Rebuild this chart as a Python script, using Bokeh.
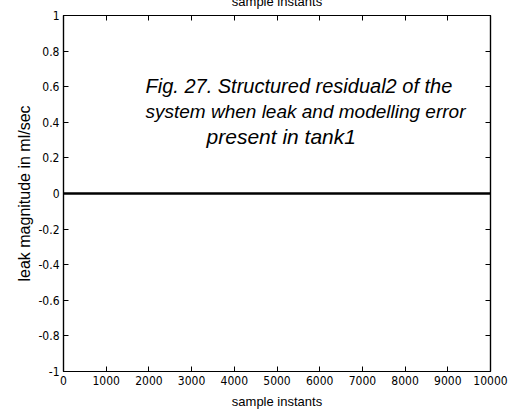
from bokeh.plotting import figure
from bokeh.models import LinearAxis, FixedTicker, Label, Range1d
from bokeh.embed import file_html
from bokeh.resources import INLINE

# residual signal: flat zero over the whole run
sample_instants = [0, 10000]
residual2 = [0.0, 0.0]

x_ticks = [0, 1000, 2000, 3000, 4000, 5000, 6000, 7000, 8000, 9000, 10000]
x_tick_labels = ["0", "1000", "2000", "3000", "4000", "5000", "6000", "7000", "8000", "9000", "10000"]
y_ticks = [-1, -0.8, -0.6, -0.4, -0.2, 0, 0.2, 0.4, 0.6, 0.8, 1]
y_tick_labels = ["-1", "-0.8", "-0.6", "-0.4", "-0.2", "0", "0.2", "0.4", "0.6", "0.8", "1"]

caption_lines = [
    "Fig. 27. Structured residual2 of the",
    "system when leak and modelling error",
    "present in tank1",
]

FONT = "Liberation Sans"
TICK_FONT = "'Liberation Sans Narrow', 'DejaVu Sans Condensed', 'Liberation Sans', sans-serif"

# the canvas is taller than the page and pulled up, so the top axis title runs off the top
p = figure(width=524, height=423, output_backend="svg", toolbar_location=None,
           x_range=Range1d(0, 10000), y_range=Range1d(-1, 1),
           min_border_left=63, min_border_right=34, min_border_top=23, min_border_bottom=42,
           x_axis_label="sample instants", y_axis_label="leak magnitude in ml/sec")
p.styles = {"margin-top": "-10px"}
p.background_fill_color = "white"
p.border_fill_color = "white"
p.grid.visible = False
p.outline_line_color = "black"
p.outline_line_width = 1.2

p.line(sample_instants, residual2, line_color="black", line_width=2.5)


def style_axis(ax, ticks, labels):
    ax.ticker = FixedTicker(ticks=ticks)
    ax.major_label_overrides = {t: s for t, s in zip(ticks, labels)}
    ax.axis_line_color = "black"
    ax.axis_line_width = 1.2
    ax.major_tick_in = 5
    ax.major_tick_out = 0
    ax.minor_tick_in = 0
    ax.minor_tick_out = 0
    ax.major_tick_line_color = "black"
    ax.major_label_text_font = TICK_FONT
    ax.major_label_text_font_size = "12px"
    ax.major_label_text_color = "black"
    ax.axis_label_text_font = FONT
    ax.axis_label_text_font_style = "normal"
    ax.axis_label_text_color = "black"


xa = p.xaxis[0]
style_axis(xa, x_ticks, x_tick_labels)
xa.major_label_standoff = 4
xa.axis_label_standoff = 6
xa.axis_label_text_font_size = "13px"

ya = p.yaxis[0]
style_axis(ya, y_ticks, y_tick_labels)
ya.major_label_standoff = 4
ya.axis_label_standoff = 2
ya.axis_label_text_font_size = "16px"

# mirrored tick marks on the top edge, carrying the repeated axis title
top_axis = LinearAxis(axis_label="sample instants")
style_axis(top_axis, x_ticks, [""] * len(x_ticks))
top_axis.major_label_standoff = 0
top_axis.axis_label_standoff = 7
top_axis.axis_label_text_font_size = "13px"
p.add_layout(top_axis, "above")

# mirrored tick marks on the right edge, no labels
right_axis = LinearAxis()
style_axis(right_axis, y_ticks, [""] * len(y_ticks))
right_axis.major_label_standoff = 0
p.add_layout(right_axis, "right")

# caption lines drawn inside the frame
caption_x = [1920, 1920, 3350]
caption_y = [0.604, 0.459, 0.319]
caption_size = ["20px", "19px", "21px"]
for txt, cx, cy, fs in zip(caption_lines, caption_x, caption_y, caption_size):
    p.add_layout(Label(x=cx, y=cy, text=txt, text_font=FONT, text_font_size=fs,
                       text_font_style="italic", text_color="black",
                       text_align="left", text_baseline="alphabetic"))

open("out.html", "w").write(file_html(p, INLINE))
